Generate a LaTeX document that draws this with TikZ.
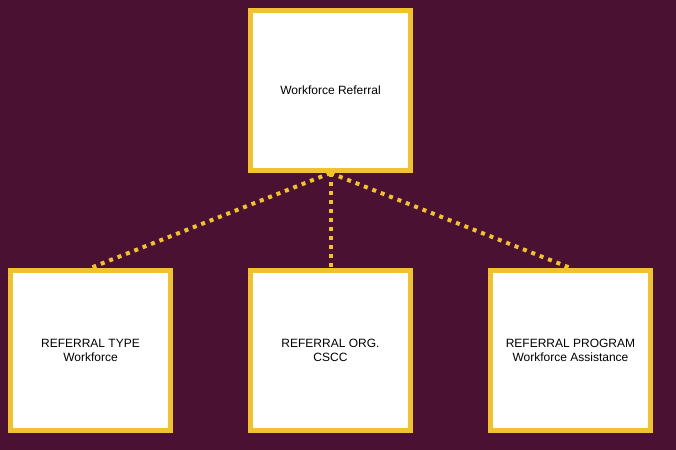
\documentclass[tikz,border=0pt]{standalone}
\usepackage{fontspec}
\setmainfont{Liberation Sans}
\definecolor{bgmaroon}{RGB}{74,17,50}
\definecolor{gold}{RGB}{240,194,50}
\begin{document}
\begin{tikzpicture}[x=0.75pt,y=-0.75pt,
  box/.style={draw=gold, fill=white, line width=3.75pt, minimum width=120pt, minimum height=120pt,
    inner sep=0pt, align=center, font=\fontsize{9pt}{10.5pt}\selectfont, text=black},
  link/.style={draw=gold, line width=3pt, dash pattern=on 3pt off 3.75pt, line cap=butt}]
\fill[bgmaroon] (0,0) rectangle (676,450);
\useasboundingbox (0,0) rectangle (676,450);
\node[box] (top) at (330.5,90.5) {Workforce Referral};
\node[box] (left) at (90.5,350.5) {REFERRAL TYPE\\Workforce};
\node[box] (mid) at (330.5,350.5) {REFERRAL ORG.\\CSCC};
\node[box] (right) at (570.5,350.5) {REFERRAL PROGRAM\\Workforce Assistance};
\draw[link] (top.south) -- (left.north);
\draw[link] (top.south) -- (mid.north);
\draw[link] (top.south) -- (right.north);
\end{tikzpicture}
\end{document}
